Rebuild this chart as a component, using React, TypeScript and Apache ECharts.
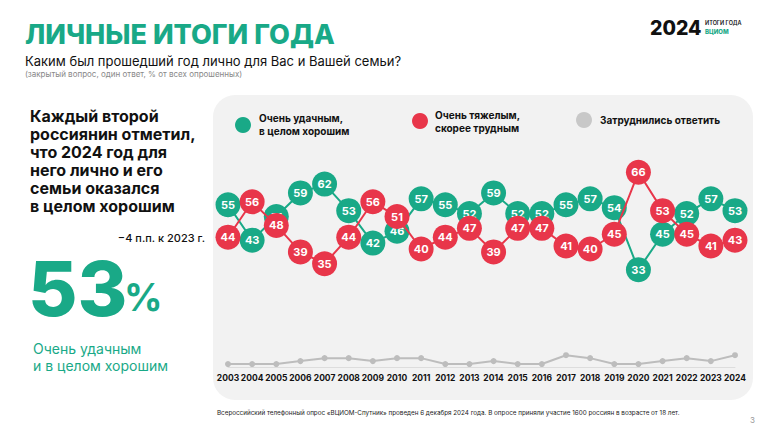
import React, { useEffect, useRef } from "react";
import * as echarts from "echarts";

const years = ["2003","2004","2005","2006","2007","2008","2009","2010","2011","2012","2013","2014","2015","2016","2017","2018","2019","2020","2021","2022","2023","2024"];
const good = [55,43,51,59,62,53,42,46,57,55,52,59,52,52,55,57,54,33,45,52,57,53];
const hard = [44,56,48,39,35,44,56,51,40,44,47,39,47,47,41,40,45,66,53,45,41,43];
const unsure = [1,1,1,2,3,3,2,3,3,1,1,2,1,1,4,3,1,1,2,3,2,4];

const seriesNames = ["Очень удачным,\nв целом хорошим", "Очень тяжелым,\nскорее трудным", "Затруднились ответить"];
const GREEN = "#19A987";
const RED = "#E8364A";
const GREY = "#BDBDBD";
const FONT = "Inter, 'Noto Sans', sans-serif";

const leftText = "Каждый второй\nроссиянин отметил,\nчто 2024 год для\nнего лично и его\nсемьи оказался\nв целом хорошим";

export default function App() {
  const ref = useRef<HTMLDivElement>(null);
  useEffect(() => {
    const chart = echarts.init(ref.current!, null, { renderer: "svg" });
    const graphic: any[] = [
      { type: "rect", z: -10, shape: { x: 213, y: 95, width: 540, height: 305, r: 22 }, style: { fill: "#F2F2F2" } },
      { type: "text", x: 25, y: 34, style: { text: "ЛИЧНЫЕ ИТОГИ ГОДА", font: `800 27px ${FONT}`, fill: GREEN, verticalAlign: "middle" } },
      { type: "text", x: 25, y: 61, style: { text: "Каким был прошедший год лично для Вас и Вашей семьи?", font: `400 13px ${FONT}`, fill: "#111", verticalAlign: "middle" } },
      { type: "text", x: 25, y: 74, style: { text: "(закрытый вопрос, один ответ, % от всех опрошенных)", font: `400 8px ${FONT}`, fill: "#888", verticalAlign: "middle" } },
      { type: "text", x: 650, y: 28, style: { text: "2024", font: `800 19.5px ${FONT}`, fill: "#111", verticalAlign: "middle" } },
      { type: "text", x: 705, y: 23, style: { text: "ИТОГИ ГОДА", font: `600 5.5px ${FONT}`, fill: "#111", verticalAlign: "middle" } },
      { type: "text", x: 705, y: 31, style: { text: "ВЦИОМ", font: `800 6px ${FONT}`, fill: GREEN, verticalAlign: "middle" } },
      { type: "text", x: 30, y: 107, style: { text: leftText, font: `700 16px ${FONT}`, fill: "#111", verticalAlign: "top", lineHeight: 18 } },
      { type: "text", x: 205, y: 238, style: { text: "−4 п.п. к 2023 г.", font: `500 11px ${FONT}`, fill: "#111", verticalAlign: "middle", align: "right" } },
      { type: "text", x: 28, y: 288, style: { text: "53", font: `800 76px ${FONT}`, fill: GREEN, verticalAlign: "middle" } },
      { type: "text", x: 124, y: 297, style: { text: "%", font: `700 38px ${FONT}`, fill: GREEN, verticalAlign: "middle" } },
      { type: "text", x: 33, y: 340, style: { text: "Очень удачным\nи в целом хорошим", font: `400 14px ${FONT}`, fill: GREEN, verticalAlign: "top", lineHeight: 17 } },
      // legend
      { type: "circle", shape: { cx: 243, cy: 125, r: 8 }, style: { fill: GREEN } },
      { type: "text", x: 259, y: 124, style: { text: seriesNames[0], font: `700 10px ${FONT}`, fill: "#111", verticalAlign: "middle", lineHeight: 13 } },
      { type: "circle", shape: { cx: 420, cy: 121, r: 8 }, style: { fill: RED } },
      { type: "text", x: 435, y: 121, style: { text: seriesNames[1], font: `700 10px ${FONT}`, fill: "#111", verticalAlign: "middle", lineHeight: 13 } },
      { type: "circle", shape: { cx: 584, cy: 120, r: 8 }, style: { fill: "#C8C8C8" } },
      { type: "text", x: 600, y: 120, style: { text: seriesNames[2], font: `700 10px ${FONT}`, fill: "#111", verticalAlign: "middle" } },
      { type: "text", x: 217, y: 413, style: { text: "Всероссийский телефонный опрос «ВЦИОМ-Спутник» проведен 6 декабря 2024 года. В опросе приняли участие 1600 россиян в возрасте от 18 лет.", font: `400 6.3px ${FONT}`, fill: "#222", verticalAlign: "middle" } },
      { type: "text", x: 750, y: 420, style: { text: "3", font: `400 8px ${FONT}`, fill: "#999", verticalAlign: "middle" } },
    ];
    chart.setOption({
      animation: false,
      grid: { left: 228, right: 33, top: 160.5, bottom: 65 },
      xAxis: {
        type: "category",
        data: years,
        boundaryGap: false,
        axisLine: { lineStyle: { color: "#DDDDDD", width: 1 } },
        axisTick: { show: false },
        axisLabel: { color: "#111", fontFamily: FONT, fontWeight: 700, fontSize: 8.5, margin: 6, interval: 0 },
      },
      yAxis: { type: "value", min: 0, max: 70, show: false, splitLine: { show: false } },
      graphic,
      series: [
        {
          name: seriesNames[2], type: "line", data: unsure, symbol: "circle", symbolSize: 6,
          itemStyle: { color: GREY }, lineStyle: { color: GREY, width: 2 }, z: 2,
        },
        {
          name: seriesNames[0], type: "line", data: good, symbol: "circle", symbolSize: 25,
          itemStyle: { color: GREEN }, lineStyle: { color: GREEN, width: 2 }, z: 3,
          label: { show: true, position: "inside", color: "#fff", fontFamily: FONT, fontWeight: 700, fontSize: 11 },
        },
        {
          name: seriesNames[1], type: "line", data: hard, symbol: "circle", symbolSize: 25,
          itemStyle: { color: RED }, lineStyle: { color: RED, width: 2 }, z: 4,
          label: { show: true, position: "inside", color: "#fff", fontFamily: FONT, fontWeight: 700, fontSize: 11 },
        },
      ],
    });
    return () => chart.dispose();
  }, []);
  return <div ref={ref} style={{ position: "absolute", left: 0, top: 0, width: 768, height: 432, background: "#fff" }} />;
}
